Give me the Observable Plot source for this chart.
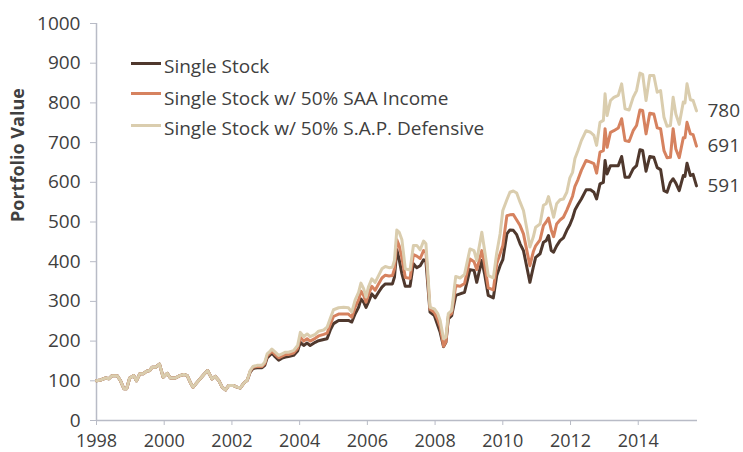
<!DOCTYPE html>
<html><head><meta charset="utf-8">
<script src="https://cdn.jsdelivr.net/npm/d3@7"></script>
<script src="https://cdn.jsdelivr.net/npm/@observablehq/plot@0.6"></script>
<style>
body{margin:0;background:#fff;font-family:"Open Sans",sans-serif;}
#wrap{position:relative;width:743px;height:452px;}
.sw{position:absolute;left:131px;width:30px;height:3px;}
.lt{position:absolute;left:164px;font-size:19px;line-height:22px;color:#404040;white-space:nowrap;}
</style></head><body>
<div id="wrap"></div>
<script>
const years = [1998.00,1998.12,1998.27,1998.36,1998.46,1998.61,1998.71,1998.81,1998.89,1998.98,
1999.10,1999.18,1999.28,1999.38,1999.48,1999.57,1999.64,1999.74,1999.86,1999.97,
2000.09,2000.18,2000.33,2000.46,2000.58,2000.68,2000.77,2000.85,2000.97,
2001.17,2001.28,2001.41,2001.51,2001.61,2001.71,2001.81,2001.90,
2002.05,2002.15,2002.25,2002.35,2002.45,
2002.54,2002.62,2002.74,2002.89,2002.97,
2003.04,2003.13,2003.18,2003.28,2003.38,2003.48,2003.58,2003.67,2003.82,2003.94,
2004.02,2004.12,2004.22,2004.31,2004.46,2004.56,2004.71,2004.81,2004.90,
2005.00,2005.15,2005.30,2005.44,2005.54,2005.64,2005.74,2005.81,2005.89,2005.96,
2006.03,2006.13,2006.23,2006.33,2006.43,2006.53,2006.64,2006.74,2006.80,2006.87,2006.94,
2007.02,2007.12,2007.26,2007.36,2007.46,2007.56,2007.66,2007.73,2007.85,2007.98,
2008.08,2008.15,2008.25,2008.32,2008.39,2008.49,2008.61,2008.74,2008.87,
2009.03,2009.15,2009.23,2009.38,2009.46,2009.57,2009.72,2009.82,2009.92,
2010.00,2010.12,2010.21,2010.31,2010.41,2010.51,2010.61,2010.71,2010.80,2010.90,2010.97,
2011.10,2011.20,2011.28,2011.35,2011.43,2011.50,2011.59,2011.69,2011.79,2011.89,2011.98,
2012.06,2012.13,2012.22,2012.32,2012.46,2012.59,2012.69,2012.77,2012.87,2012.97,
2013.02,2013.08,2013.18,2013.28,2013.41,2013.51,2013.61,2013.73,2013.85,2013.95,
2014.05,2014.13,2014.23,2014.34,2014.46,2014.56,2014.66,2014.76,2014.85,2014.95,
2015.03,2015.11,2015.21,2015.33,2015.38,2015.44,2015.54,2015.62,2015.72];

const singleStock = [100,102,107,105,113,113,100,80,80,107,
113,100,118,118,124,126,134,134,142,109,
119,107,107,113,116,113,96,84,96,
116,126,105,111,101,84,77,88,
88,84,82,94,101,
122,131,133,133,139,
158,165,170,160,152,157,160,161,164,175,
197,189,195,189,197,201,204,206,227,
244,252,252,252,248,269,285,306,298,285,
298,319,309,323,336,344,344,344,361,430,405,
370,338,338,395,385,390,405,400,273,264,
239,222,186,197,256,264,315,319,323,
380,378,348,403,370,315,309,365,390,
405,470,480,479,468,445,428,386,348,386,411,
420,449,453,466,428,424,440,453,460,479,493,
510,530,544,558,581,581,575,558,596,600,
655,621,642,642,642,665,613,613,634,642,
682,680,628,665,663,637,632,579,575,600,
609,598,579,617,615,648,617,620,591];

const saaIncome = [100,102,107,105,113,113,100,80,80,107,
113,100,118,118,124,126,134,134,142,109,
119,107,107,113,116,113,96,84,96,
116,126,105,111,101,84,77,88,
88,84,82,94,101,
124,134,136,136,143,
163,170,175,166,158,162,166,166,170,182,
210,200,206,200,207,213,217,220,241,
262,268,268,268,260,286,304,326,315,298,
317,338,328,344,359,366,364,365,382,455,440,
410,360,358,418,414,408,428,425,280,272,
254,237,187,198,262,270,340,338,345,
407,400,380,428,395,334,329,395,420,
440,516,518,519,505,491,470,428,390,425,440,
455,491,500,510,480,463,495,505,512,530,548,
565,590,607,630,655,651,647,623,676,680,
735,688,726,730,737,760,705,703,730,743,
782,781,722,774,772,737,735,680,662,663,
735,684,662,712,712,751,722,720,691];

const sapDefensive = [100,102,107,105,113,113,100,80,80,107,
113,100,118,118,124,126,134,134,142,109,
119,107,107,113,116,113,96,84,96,
116,126,105,111,101,84,77,88,
88,84,82,94,101,
126,136,139,139,147,
168,175,180,172,164,168,172,172,176,189,
222,211,218,211,217,225,228,235,256,
279,284,285,284,273,304,323,346,332,311,
336,357,348,365,382,388,385,386,403,480,474,
455,382,379,441,441,430,452,445,285,281,
269,252,206,210,269,277,363,359,368,
432,428,403,474,430,365,359,422,470,
529,556,575,578,573,550,529,483,437,462,487,
495,542,546,564,537,512,546,556,558,575,611,
625,660,680,705,730,726,718,693,751,756,
823,768,806,814,819,848,785,782,814,831,
875,872,806,869,869,827,831,764,741,743,
814,772,746,802,800,848,808,806,780];

const seriesNames = ["Single Stock", "Single Stock w/ 50% SAA Income", "Single Stock w/ 50% S.A.P. Defensive"];
const seriesColors = ["#4f382d", "#d6825f", "#dacdae"];
const yTicks = [0,100,200,300,400,500,600,700,800,900,1000];
const xTicks = [1998,2000,2002,2004,2006,2008,2010,2012,2014];
const endLabels = ["591", "691", "780"];
const yLabel = "Portfolio Value";

const seriesValues = [singleStock, saaIncome, sapDefensive];
const rows = [];
seriesValues.forEach((vals, s) => years.forEach((yr, i) => rows.push({year: yr, value: vals[i], series: seriesNames[s]})));
const lastRows = seriesValues.map((vals, s) => ({year: years[years.length - 1], value: vals[vals.length - 1], series: seriesNames[s], label: endLabels[s]}));

const axisColor = "#b8bbc6";
const textColor = "#404040";

const chart = Plot.plot({
  width: 743, height: 452,
  marginLeft: 96, marginRight: 46, marginTop: 23, marginBottom: 32,
  style: {fontFamily: "Open Sans", fontSize: "19px", color: textColor, background: "#fff"},
  x: {domain: [1998, 2015.75]},
  y: {domain: [0, 1000]},
  color: {domain: seriesNames, range: seriesColors},
  marks: [
    Plot.ruleX([1998], {stroke: axisColor, strokeWidth: 1.5}),
    Plot.ruleY([0], {stroke: axisColor, strokeWidth: 1.5}),
    Plot.axisY({ticks: yTicks, tickSize: 6, tickPadding: 10, stroke: axisColor, fill: textColor, label: null, tickFormat: d => String(d)}),
    Plot.axisX({ticks: xTicks, tickSize: 5, tickPadding: 9, fontSize: 18, stroke: axisColor, fill: textColor, label: null, tickFormat: d => String(d)}),
    Plot.text([yLabel], {frameAnchor: "left", dx: -78, rotate: -90, text: d => d, fontWeight: "bold", fontSize: 18, fill: textColor}),
    ...seriesNames.map(name => Plot.line(rows.filter(r => r.series === name), {x: "year", y: "value", stroke: "series", strokeWidth: 3, strokeLinejoin: "round", curve: "linear"})),
    Plot.text(lastRows, {x: "year", y: "value", text: "label", dx: 11, textAnchor: "start", fill: textColor, fontSize: 19})
  ]
});

const wrap = document.getElementById("wrap");
wrap.appendChild(chart);
const swTops = [61.5, 92, 123.5];
const txtTops = [55, 87, 117];
seriesNames.forEach((name, i) => {
  const sw = document.createElement("div");
  sw.className = "sw"; sw.style.top = swTops[i] + "px"; sw.style.background = seriesColors[i];
  wrap.appendChild(sw);
  const t = document.createElement("div");
  t.className = "lt"; t.style.top = txtTops[i] + "px"; t.textContent = name;
  wrap.appendChild(t);
});
</script>
</body></html>
